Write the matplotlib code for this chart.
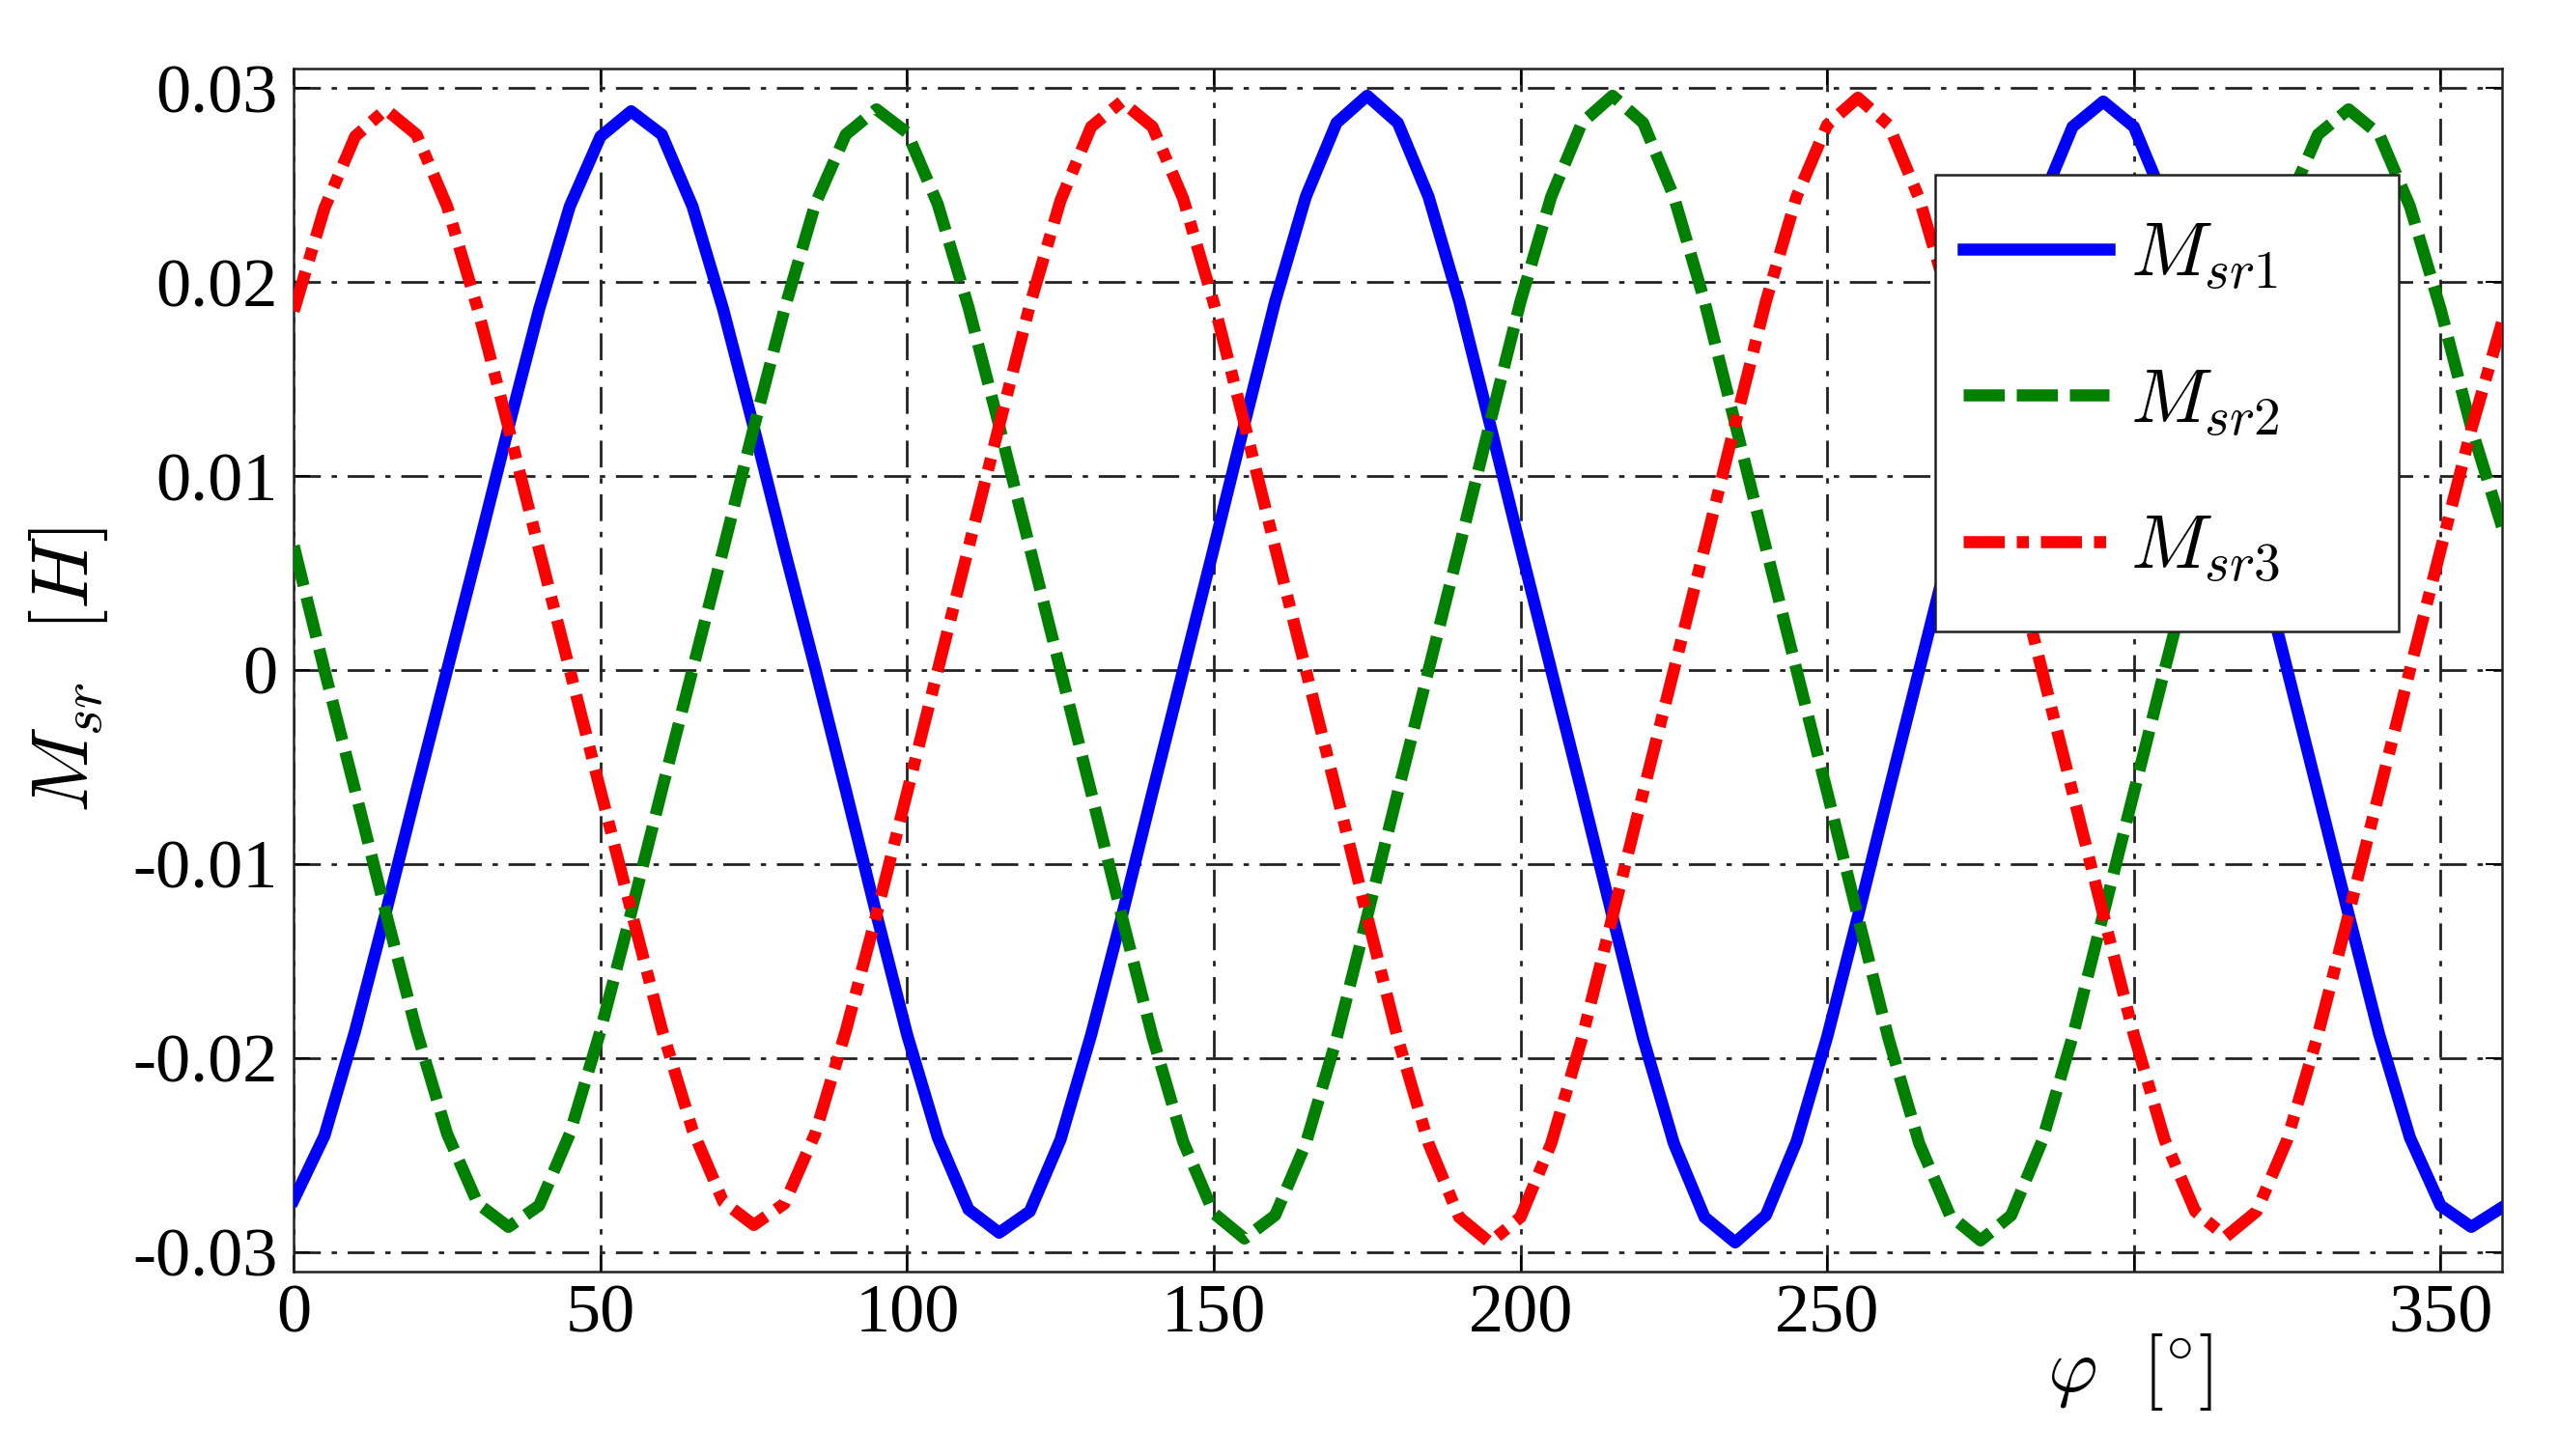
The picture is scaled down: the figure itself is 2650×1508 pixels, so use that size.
import numpy as np
import matplotlib
matplotlib.use("Agg")
import matplotlib.pyplot as plt
from matplotlib.patches import Rectangle

# mutual inductances vs rotor angle (5 deg steps)
phi = list(range(0, 361, 5))

m_sr1 = [-0.0273, -0.0240, -0.0186, -0.0125, -0.0062, 0.0000, 0.0062, 0.0125, 0.0186, 0.0239,
         0.0275, 0.0288, 0.0276, 0.0239, 0.0186, 0.0125, 0.0062, 0.0001, -0.0062, -0.0126,
         -0.0188, -0.0241, -0.0278, -0.0290, -0.0279, -0.0242, -0.0188, -0.0127, -0.0063, 0.0000,
         0.0063, 0.0127, 0.0190, 0.0244, 0.0282, 0.0296, 0.0282, 0.0244, 0.0190, 0.0127,
         0.0063, 0.0000, -0.0063, -0.0127, -0.0190, -0.0244, -0.0282, -0.0295, -0.0281, -0.0243,
         -0.0189, -0.0127, -0.0063, 0.0000, 0.0063, 0.0126, 0.0188, 0.0242, 0.0280, 0.0293,
         0.0280, 0.0242, 0.0188, 0.0126, 0.0063, 0.0000, -0.0063, -0.0126, -0.0188, -0.0241,
         -0.0276, -0.0287, -0.0277]

m_sr2 = [0.0064, 0.0000, -0.0062, -0.0125, -0.0186, -0.0239, -0.0275, -0.0287, -0.0276, -0.0239,
         -0.0186, -0.0125, -0.0062, 0.0000, 0.0062, 0.0125, 0.0186, 0.0240, 0.0276, 0.0289,
         0.0277, 0.0240, 0.0187, 0.0126, 0.0063, 0.0000, -0.0063, -0.0127, -0.0189, -0.0243,
         -0.0280, -0.0293, -0.0281, -0.0244, -0.0190, -0.0127, -0.0063, 0.0000, 0.0063, 0.0127,
         0.0190, 0.0244, 0.0282, 0.0296, 0.0282, 0.0244, 0.0190, 0.0127, 0.0063, 0.0000,
         -0.0063, -0.0127, -0.0190, -0.0244, -0.0281, -0.0294, -0.0281, -0.0243, -0.0189, -0.0126,
         -0.0063, 0.0000, 0.0062, 0.0125, 0.0186, 0.0240, 0.0276, 0.0289, 0.0276, 0.0239,
         0.0186, 0.0125, 0.0074]

m_sr3 = [0.0185, 0.0238, 0.0275, 0.0289, 0.0276, 0.0239, 0.0186, 0.0125, 0.0062, 0.0000,
         -0.0062, -0.0124, -0.0185, -0.0237, -0.0274, -0.0286, -0.0275, -0.0239, -0.0186, -0.0126,
         -0.0063, 0.0000, 0.0063, 0.0126, 0.0188, 0.0242, 0.0280, 0.0293, 0.0280, 0.0243,
         0.0189, 0.0127, 0.0063, 0.0000, -0.0063, -0.0127, -0.0190, -0.0244, -0.0282, -0.0295,
         -0.0282, -0.0244, -0.0190, -0.0127, -0.0063, 0.0000, 0.0063, 0.0127, 0.0190, 0.0244,
         0.0281, 0.0295, 0.0281, 0.0243, 0.0189, 0.0127, 0.0063, 0.0000, -0.0063, -0.0126,
         -0.0188, -0.0242, -0.0279, -0.0292, -0.0279, -0.0242, -0.0188, -0.0126, -0.0063, 0.0000,
         0.0062, 0.0124, 0.0179]

x_ticks = [0, 50, 100, 150, 200, 250, 300, 350]
# the 300 label is hidden behind the axis label in the original
x_labels = ["0", "50", "100", "150", "200", "250", "", "350"]
y_ticks = [-0.03, -0.02, -0.01, 0, 0.01, 0.02, 0.03]
y_labels = ["-0.03", "-0.02", "-0.01", "0", "0.01", "0.02", "0.03"]

plt.rcParams["mathtext.fontset"] = "cm"
plt.rcParams["font.family"] = ["Liberation Serif", "DejaVu Serif"]

fig = plt.figure(figsize=(26.5, 15.08), dpi=100)
ax = fig.add_axes([0.1148, 0.1267, 0.8629, 0.8262])

lw = 9
ax.plot(phi, m_sr1, color="#0000ff", lw=lw, linestyle="-", label=r"$M_{sr1}$", zorder=3)
ax.plot(phi, m_sr2, color="#008000", lw=lw, linestyle=(0, (3.4, 1.0)), label=r"$M_{sr2}$", zorder=3)
ax.plot(phi, m_sr3, color="#ff0000", lw=lw, linestyle=(0, (3.4, 1.0, 1.0, 1.0)),
        label=r"$M_{sr3}$", zorder=3)

ax.set_xlim(0, 360)
ax.set_ylim(-0.031, 0.031)
ax.set_xticks(x_ticks)
ax.set_xticklabels(x_labels)
ax.set_yticks(y_ticks)
ax.set_yticklabels(y_labels)

ax.grid(True, color="#222222", lw=2.0, linestyle=(0, (10, 4, 2, 4)))
ax.set_axisbelow(True)

ax.tick_params(direction="in", length=12, width=1.5, top=True, right=True, labelsize=52)
ax.tick_params(axis="x", pad=9)
ax.tick_params(axis="y", pad=12)
for s in ax.spines.values():
    s.set_linewidth(1.8)
    s.set_color("#222222")

ax.set_ylabel(r"$M_{sr}\ \ [H]$", fontsize=60)
ax.yaxis.set_label_coords(-0.083, 0.5)
ax.set_xlabel(r"$\varphi\ \ [^{\circ}]$", fontsize=57)
ax.xaxis.set_label_coords(0.8315, -0.05)

# legend box drawn by hand (wider than its contents, like the original)
ax.add_patch(Rectangle((0.7435, 0.5319), 0.2099, 0.3799, transform=ax.transAxes,
                       facecolor="white", edgecolor="#222222", lw=1.8, zorder=4.5))
leg = ax.legend(loc="center left", bbox_to_anchor=(0.7561, 0.7218),
                fontsize=57, handlelength=1.9, handletextpad=0.28,
                labelspacing=1.0, borderpad=0.0, borderaxespad=0.0, frameon=False)
leg.set_zorder(5)

fig.savefig("out.png", dpi=100)
